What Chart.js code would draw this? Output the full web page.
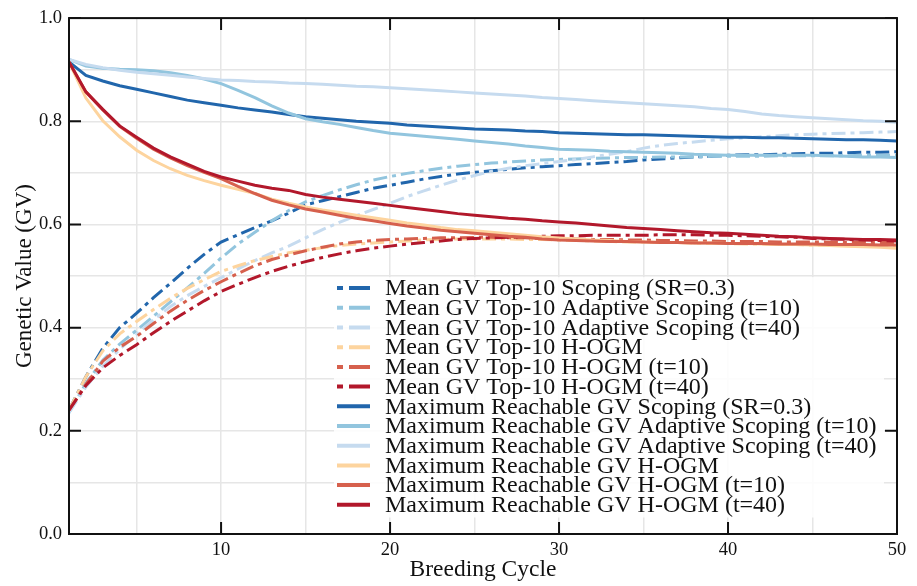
<!DOCTYPE html>
<html>
<head>
<meta charset="utf-8">
<script src="https://cdn.jsdelivr.net/npm/chart.js@4.4.0/dist/chart.umd.min.js"></script>
<style>
  html, body { margin: 0; padding: 0; background: #fff; }
  #wrap { width: 917px; height: 586px; }
</style>
</head>
<body>
<div id="wrap"><canvas id="gv_chart"></canvas></div>
<script>
/* breeding cycles 1..50 */
var cycles = [];
for (var c = 1; c <= 50; c++) { cycles.push(c); }

/* Mean GV Top-10 (dash-dot) */
var meanScoping = [0.240,0.305,0.360,0.400,0.428,0.458,0.486,0.515,0.542,0.566,
  0.580,0.594,0.607,0.622,0.638,0.646,0.654,0.662,0.670,0.676,
  0.682,0.688,0.693,0.698,0.701,0.704,0.707,0.710,0.712,0.714,
  0.716,0.718,0.720,0.722,0.725,0.727,0.729,0.731,0.732,0.734,
  0.735,0.735,0.736,0.737,0.738,0.738,0.739,0.740,0.740,0.741];
var meanAdapt10 = [0.235,0.292,0.337,0.368,0.395,0.422,0.450,0.477,0.505,0.535,
  0.562,0.585,0.607,0.627,0.644,0.656,0.667,0.677,0.686,0.693,
  0.699,0.704,0.709,0.713,0.716,0.719,0.721,0.723,0.725,0.726,
  0.727,0.728,0.729,0.730,0.730,0.731,0.731,0.731,0.732,0.732,
  0.732,0.732,0.733,0.733,0.733,0.733,0.733,0.734,0.734,0.734];
var meanAdapt40 = [0.235,0.285,0.325,0.358,0.387,0.415,0.441,0.462,0.480,0.497,
  0.514,0.530,0.545,0.558,0.574,0.590,0.604,0.617,0.629,0.641,
  0.654,0.665,0.676,0.686,0.695,0.703,0.709,0.714,0.718,0.722,
  0.726,0.731,0.736,0.741,0.748,0.753,0.757,0.760,0.763,0.766,
  0.768,0.770,0.772,0.774,0.775,0.776,0.777,0.778,0.779,0.780];
var meanHogm = [0.240,0.305,0.355,0.388,0.412,0.435,0.457,0.476,0.493,0.509,
  0.520,0.530,0.538,0.545,0.550,0.555,0.559,0.562,0.564,0.566,
  0.568,0.570,0.571,0.572,0.572,0.572,0.572,0.571,0.571,0.570,
  0.569,0.568,0.567,0.566,0.566,0.565,0.565,0.564,0.563,0.563,
  0.562,0.562,0.561,0.561,0.560,0.560,0.559,0.559,0.558,0.558];
var meanHogm10 = [0.240,0.290,0.335,0.362,0.383,0.408,0.432,0.453,0.472,0.489,
  0.505,0.520,0.532,0.541,0.549,0.556,0.562,0.566,0.569,0.571,
  0.572,0.573,0.574,0.574,0.575,0.575,0.574,0.574,0.573,0.572,
  0.572,0.571,0.571,0.570,0.570,0.569,0.569,0.568,0.568,0.567,
  0.567,0.567,0.566,0.566,0.566,0.566,0.565,0.565,0.565,0.565];
var meanHogm40 = [0.240,0.288,0.322,0.346,0.367,0.390,0.412,0.432,0.452,0.470,
  0.484,0.497,0.509,0.519,0.528,0.536,0.543,0.549,0.554,0.558,
  0.562,0.565,0.568,0.571,0.573,0.574,0.575,0.576,0.577,0.578,
  0.578,0.579,0.579,0.579,0.579,0.580,0.580,0.580,0.579,0.579,
  0.578,0.577,0.576,0.575,0.573,0.572,0.571,0.570,0.569,0.568];

/* Maximum Reachable GV (solid) */
var maxScoping = [0.915,0.889,0.878,0.869,0.862,0.855,0.848,0.841,0.836,0.831,
  0.826,0.822,0.818,0.813,0.809,0.806,0.803,0.800,0.798,0.796,
  0.793,0.791,0.789,0.787,0.785,0.784,0.783,0.781,0.780,0.778,
  0.777,0.776,0.775,0.774,0.774,0.773,0.772,0.771,0.770,0.769,
  0.769,0.768,0.768,0.767,0.766,0.765,0.764,0.764,0.763,0.762];
var maxAdapt10 = [0.920,0.907,0.903,0.901,0.900,0.898,0.894,0.889,0.882,0.873,
  0.860,0.846,0.830,0.816,0.805,0.799,0.794,0.788,0.782,0.777,
  0.774,0.771,0.768,0.765,0.762,0.759,0.756,0.752,0.749,0.746,
  0.745,0.744,0.742,0.741,0.740,0.739,0.738,0.736,0.735,0.734,
  0.734,0.734,0.734,0.734,0.734,0.733,0.732,0.731,0.731,0.730];
var maxAdapt40 = [0.920,0.910,0.904,0.899,0.895,0.892,0.889,0.886,0.883,0.880,
  0.879,0.877,0.876,0.874,0.873,0.872,0.870,0.868,0.867,0.865,
  0.863,0.861,0.859,0.857,0.855,0.853,0.851,0.849,0.846,0.844,
  0.842,0.840,0.838,0.836,0.834,0.832,0.830,0.828,0.825,0.823,
  0.819,0.814,0.811,0.809,0.807,0.805,0.803,0.801,0.800,0.798];
var maxHogm = [0.915,0.845,0.801,0.770,0.744,0.724,0.708,0.695,0.685,0.676,
  0.668,0.660,0.649,0.641,0.634,0.628,0.623,0.618,0.613,0.608,
  0.603,0.599,0.594,0.590,0.588,0.585,0.582,0.579,0.576,0.574,
  0.572,0.570,0.569,0.567,0.566,0.565,0.565,0.564,0.564,0.563,
  0.563,0.562,0.561,0.561,0.560,0.559,0.558,0.557,0.556,0.554];
var maxHogm10 = [0.915,0.857,0.822,0.790,0.767,0.746,0.729,0.714,0.701,0.689,
  0.674,0.660,0.647,0.638,0.630,0.624,0.618,0.612,0.607,0.602,
  0.597,0.593,0.589,0.586,0.583,0.580,0.577,0.575,0.572,0.570,
  0.569,0.568,0.567,0.567,0.566,0.565,0.565,0.564,0.564,0.563,
  0.563,0.563,0.562,0.562,0.562,0.561,0.561,0.561,0.560,0.560];
var maxHogm40 = [0.915,0.857,0.823,0.791,0.769,0.748,0.731,0.717,0.703,0.692,
  0.684,0.676,0.670,0.666,0.658,0.653,0.649,0.645,0.641,0.637,
  0.633,0.629,0.625,0.621,0.618,0.615,0.612,0.610,0.607,0.605,
  0.603,0.600,0.597,0.594,0.592,0.590,0.588,0.586,0.584,0.583,
  0.581,0.579,0.577,0.576,0.574,0.573,0.572,0.571,0.571,0.570];

/* 图例文字和颜色 */
var seriesLabels = [
  'Mean GV Top-10 Scoping (SR=0.3)',
  'Mean GV Top-10 Adaptive Scoping (t=10)',
  'Mean GV Top-10 Adaptive Scoping (t=40)',
  'Mean GV Top-10 H-OGM',
  'Mean GV Top-10 H-OGM (t=10)',
  'Mean GV Top-10 H-OGM (t=40)',
  'Maximum Reachable GV Scoping (SR=0.3)',
  'Maximum Reachable GV Adaptive Scoping (t=10)',
  'Maximum Reachable GV Adaptive Scoping (t=40)',
  'Maximum Reachable GV H-OGM',
  'Maximum Reachable GV H-OGM (t=10)',
  'Maximum Reachable GV H-OGM (t=40)'
];
var seriesValues = [meanScoping, meanAdapt10, meanAdapt40, meanHogm, meanHogm10, meanHogm40,
  maxScoping, maxAdapt10, maxAdapt40, maxHogm, maxHogm10, maxHogm40];
var palette = ['#2166ac', '#92c5de', '#c6dbef', '#fdd49e', '#d6604d', '#b2182b'];

var xMajor = [10, 20, 30, 40, 50];
var xMinor = [5, 10, 15, 20, 25, 30, 35, 40, 45, 50];
var yMajor = [0.0, 0.2, 0.4, 0.6, 0.8, 1.0];
var yMinor = [0.0, 0.1, 0.2, 0.3, 0.4, 0.5, 0.6, 0.7, 0.8, 0.9, 1.0];

var serif = "'Liberation Serif', 'Times New Roman', serif";
var dashDot = [14, 5, 4, 5];

var datasets = [];
for (var i = 0; i < seriesValues.length; i++) {
  datasets.push({
    label: seriesLabels[i],
    data: seriesValues[i],
    borderColor: palette[i % 6],
    backgroundColor: palette[i % 6],
    borderWidth: 3,
    borderDash: i < 6 ? dashDot : [],
    pointRadius: 0,
    tension: 0,
    fill: false,
    order: 12 - i
  });
}

/* 边框和向内刻度 */
var framePlugin = {
  id: 'frame',
  afterDraw: function(chart) {
    var ctx = chart.ctx, a = chart.chartArea;
    var xs = chart.scales.x, ys = chart.scales.y;
    ctx.save();
    ctx.strokeStyle = '#111';
    ctx.lineWidth = 2;
    ctx.strokeRect(a.left, a.top, a.right - a.left, a.bottom - a.top);
    ctx.beginPath();
    xMajor.forEach(function(v) {
      var px = xs.getPixelForValue(v);
      ctx.moveTo(px, a.bottom); ctx.lineTo(px, a.bottom - 12);
      ctx.moveTo(px, a.top); ctx.lineTo(px, a.top + 12);
    });
    yMajor.forEach(function(v) {
      var py = ys.getPixelForValue(v);
      ctx.moveTo(a.left, py); ctx.lineTo(a.left + 12, py);
      ctx.moveTo(a.right, py); ctx.lineTo(a.right - 12, py);
    });
    ctx.stroke();
    ctx.restore();
  }
};

/* 图例画在图内右下方 */
var legendPlugin = {
  id: 'innerLegend',
  afterDatasetsDraw: function(chart) {
    var ctx = chart.ctx, a = chart.chartArea;
    var left = a.left + 265, top = a.top + 259;
    var rowH = 19.7;
    var n = chart.data.datasets.length;
    ctx.save();
    ctx.fillStyle = 'rgba(255,255,255,0.85)';
    ctx.fillRect(left, top, 550, rowH * n + 4);
    ctx.font = '24px ' + serif;
    ctx.textBaseline = 'middle';
    chart.data.datasets.forEach(function(ds, k) {
      var cy = top + 11 + k * rowH;
      ctx.beginPath();
      ctx.strokeStyle = ds.borderColor;
      ctx.lineWidth = 4;
      ctx.setLineDash(ds.borderDash.length ? [6, 6, 20, 0] : []);
      ctx.moveTo(left + 3, cy);
      ctx.lineTo(left + 36, cy);
      ctx.stroke();
      ctx.setLineDash([]);
      ctx.fillStyle = '#111';
      ctx.fillText(ds.label, left + 51, cy + 1);
    });
    ctx.restore();
  }
};

var ctx = document.getElementById('gv_chart').getContext('2d');
var myChart = new Chart(ctx, {
  type: 'line',
  data: {
    labels: cycles,
    datasets: datasets
  },
  options: {
    responsive: true,
    maintainAspectRatio: false,
    animation: false,
    devicePixelRatio: 1,
    layout: { padding: { left: 0, right: 20, top: 15, bottom: 0 } },
    plugins: {
      legend: { display: false },
      tooltip: { enabled: false }
    },
    scales: {
      x: {
        type: 'linear',
        min: 1,
        max: 50,
        afterBuildTicks: function(scale) {
          scale.ticks = xMinor.map(function(v) { return { value: v }; });
        },
        afterFit: function(scale) { scale.height = 52; },
        grid: { color: '#e6e6e6', lineWidth: 1.5, drawTicks: false },
        border: { display: false },
        ticks: {
          padding: 5,
          color: '#111',
          font: { family: serif, size: 18.5 },
          maxRotation: 0,
          callback: function(v) { return v % 10 === 0 ? String(v) : ''; }
        },
        title: {
          display: true,
          text: 'Breeding Cycle',
          color: '#111',
          font: { family: serif, size: 23.5 },
          padding: { top: 0, bottom: 2 }
        }
      },
      y: {
        min: 0,
        max: 1,
        afterBuildTicks: function(scale) {
          scale.ticks = yMinor.map(function(v) { return { value: v }; });
        },
        afterFit: function(scale) { scale.width = 69; },
        grid: { color: '#e6e6e6', lineWidth: 1.5, drawTicks: false },
        border: { display: false },
        ticks: {
          padding: 7,
          color: '#111',
          font: { family: serif, size: 18.5 },
          callback: function(v) {
            var r = Math.round(v * 10);
            return r % 2 === 0 ? (r / 10).toFixed(1) : '';
          }
        },
        title: {
          display: true,
          text: 'Genetic Value (GV)',
          color: '#111',
          font: { family: serif, size: 23 },
          padding: { top: 11, bottom: 0 }
        }
      }
    }
  },
  plugins: [framePlugin, legendPlugin]
});
</script>
</body>
</html>
